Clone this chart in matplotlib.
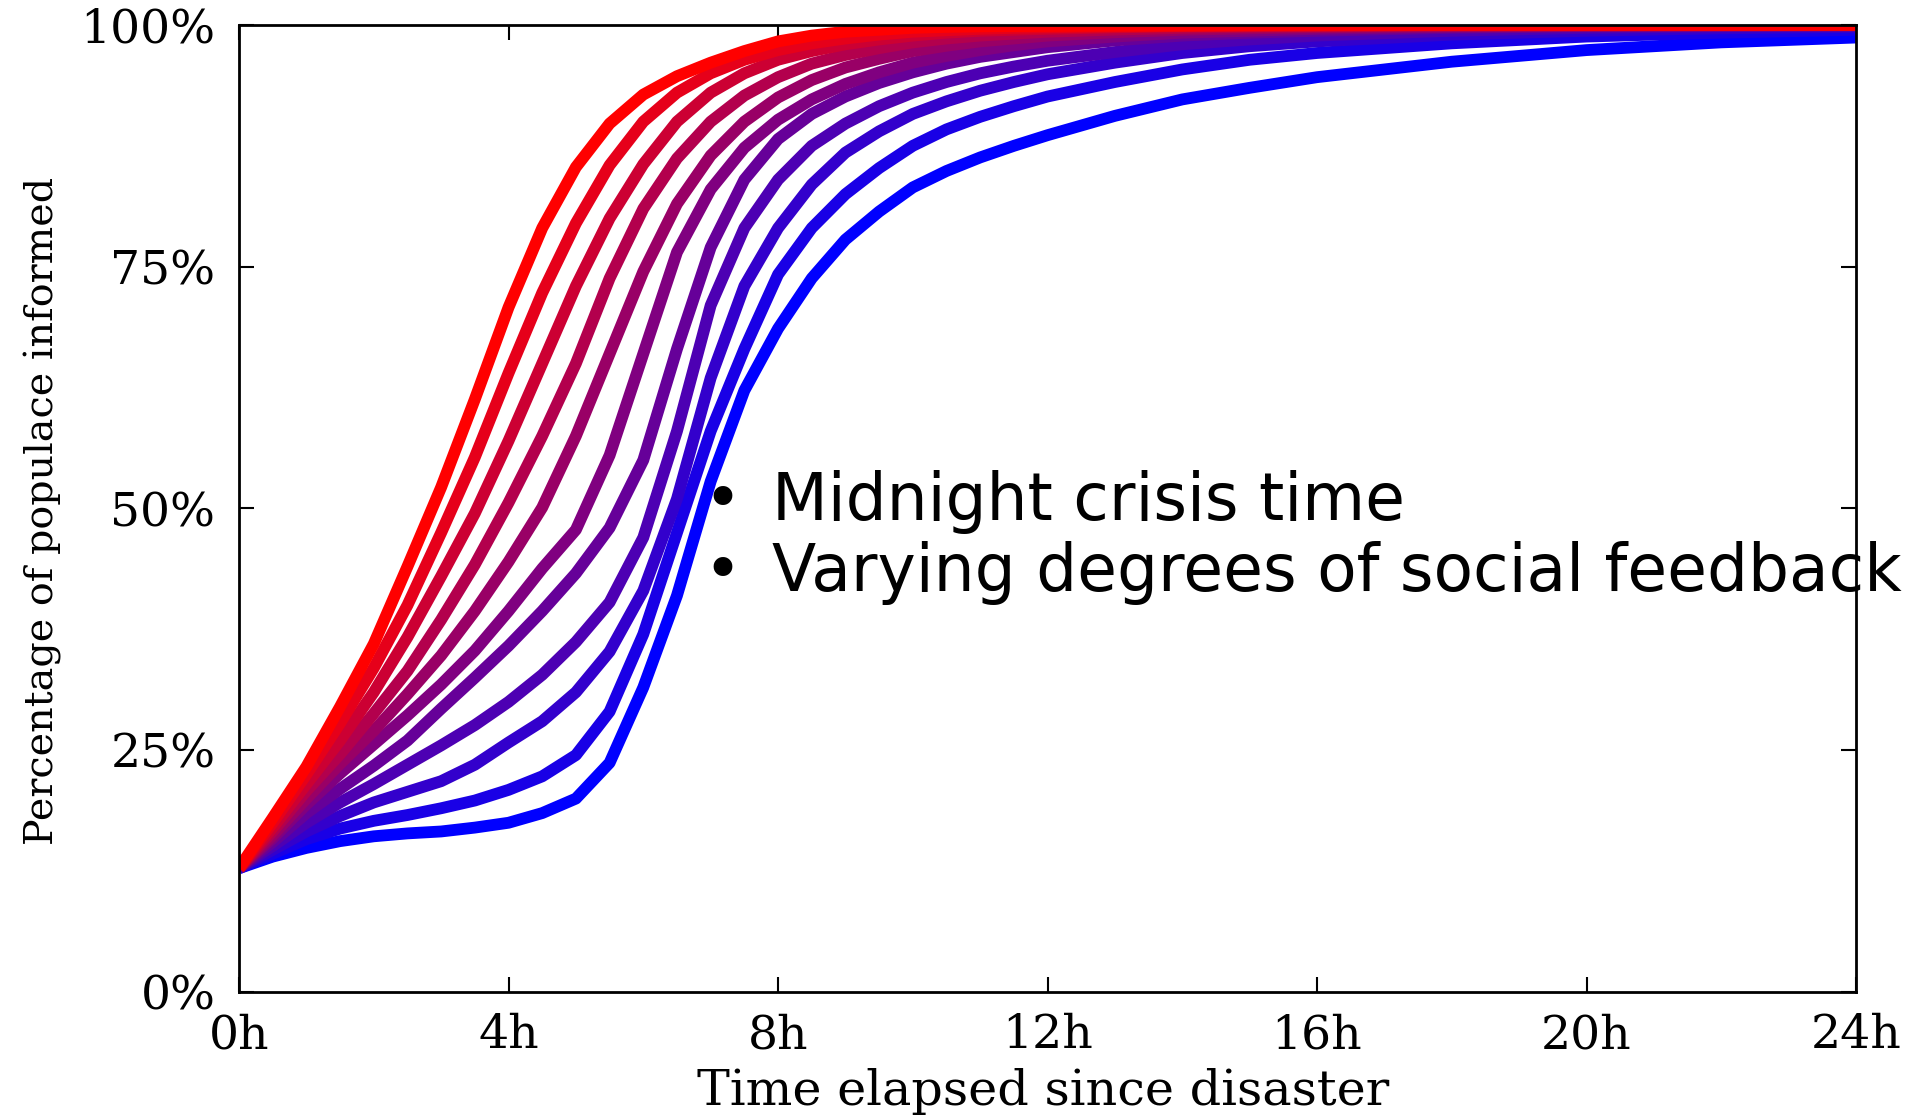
import matplotlib
matplotlib.use("Agg")
import matplotlib.pyplot as plt

# hours since the disaster (midnight crisis)
hours = [0, 0.5, 1, 1.5, 2, 2.5, 3, 3.5, 4, 4.5, 5, 5.5, 6, 6.5, 7, 7.5, 8, 8.5, 9,
         9.5, 10, 10.5, 11, 11.5, 12, 13, 14, 15, 16, 18, 20, 22, 24]

# percentage of populace informed, one run per degree of social feedback
fb00 = [12.8, 18.0, 23.3, 29.5, 36.0, 44.0, 52.2, 61.3, 70.8, 79.0, 85.3, 89.8, 92.8, 94.7,
        96.1, 97.3, 98.3, 98.9, 99.3, 99.5, 99.7, 99.8, 99.85, 99.88, 99.9, 99.93, 99.95,
        99.98, 100, 100, 100, 100, 100]
fb01 = [12.8, 17.5, 22.5, 27.8, 33.5, 40.0, 47.5, 55.3, 64.0, 72.3, 79.5, 85.5, 90.0, 93.0,
        95.0, 96.4, 97.4, 98.1, 98.6, 99.0, 99.3, 99.45, 99.6, 99.7, 99.75, 99.85, 99.9,
        99.93, 99.95, 100, 100, 100, 100]
fb02 = [12.8, 17.0, 21.5, 26.0, 31.0, 36.7, 43.0, 49.5, 57.0, 65.0, 73.0, 80.0, 85.6, 90.0,
        93.0, 95.0, 96.4, 97.3, 98.0, 98.5, 98.9, 99.2, 99.4, 99.5, 99.6, 99.75, 99.85,
        99.9, 99.93, 100, 100, 100, 100]
fb03 = [12.8, 16.6, 20.8, 24.6, 28.8, 33.2, 38.5, 44.2, 50.6, 57.5, 65.0, 73.8, 81.0, 86.2,
        90.0, 92.7, 94.6, 96.0, 96.9, 97.6, 98.2, 98.6, 98.9, 99.1, 99.3, 99.52, 99.7,
        99.8, 99.85, 99.93, 99.97, 100, 100]
fb04 = [12.8, 16.2, 20.0, 23.6, 27.0, 30.8, 34.8, 39.4, 44.5, 50.1, 57.5, 66.0, 74.5, 81.5,
        86.5, 90.0, 92.5, 94.3, 95.6, 96.5, 97.3, 97.85, 98.3, 98.6, 98.9, 99.25, 99.5,
        99.65, 99.75, 99.88, 99.94, 99.97, 100]
fb05 = [12.8, 15.9, 19.4, 22.6, 25.6, 28.6, 31.8, 35.3, 39.4, 43.8, 47.8, 55.5, 66.0, 76.5,
        83.0, 87.3, 90.2, 92.3, 93.9, 95.1, 96.1, 96.8, 97.4, 97.9, 98.3, 98.8, 99.2,
        99.4, 99.6, 99.8, 99.9, 99.95, 99.97]
fb06 = [12.8, 15.5, 18.5, 21.0, 23.4, 26.0, 29.3, 32.5, 35.8, 39.4, 43.3, 48.0, 55.0, 66.5,
        77.0, 84.0, 88.2, 90.8, 92.6, 94.0, 95.1, 96.0, 96.7, 97.2, 97.7, 98.4, 98.9,
        99.2, 99.4, 99.7, 99.85, 99.92, 99.96]
fb07 = [12.8, 15.1, 17.5, 19.6, 21.5, 23.5, 25.5, 27.6, 30.0, 32.8, 36.2, 40.3, 47.0, 58.0,
        71.0, 79.0, 84.0, 87.5, 89.8, 91.6, 93.0, 94.1, 95.0, 95.7, 96.3, 97.2, 98.0,
        98.5, 98.9, 99.4, 99.7, 99.85, 99.92]
fb08 = [12.8, 14.7, 16.6, 18.2, 19.6, 20.7, 21.8, 23.5, 25.8, 28.0, 31.0, 35.2, 41.5, 51.0,
        63.5, 73.0, 79.0, 83.5, 86.8, 89.0, 90.8, 92.1, 93.2, 94.1, 94.9, 96.1, 97.1,
        97.8, 98.3, 99.0, 99.4, 99.65, 99.8]
fb09 = [12.8, 14.3, 15.8, 16.9, 17.7, 18.3, 19.0, 19.8, 20.9, 22.3, 24.5, 29.0, 37.0, 47.5,
        58.0, 66.5, 74.2, 79.0, 82.5, 85.2, 87.5, 89.2, 90.5, 91.6, 92.6, 94.1, 95.4,
        96.4, 97.1, 98.1, 98.8, 99.2, 99.5]
fb10 = [12.8, 14.0, 14.9, 15.6, 16.1, 16.4, 16.6, 17.0, 17.5, 18.5, 20.0, 23.7, 31.5, 41.0,
        52.8, 62.2, 68.6, 73.8, 77.8, 80.7, 83.2, 84.9, 86.3, 87.5, 88.6, 90.6, 92.3,
        93.5, 94.6, 96.2, 97.4, 98.2, 98.7]

x_ticks = [0, 4, 8, 12, 16, 20, 24]
x_tick_labels = ["0h", "4h", "8h", "12h", "16h", "20h", "24h"]
y_ticks = [0, 25, 50, 75, 100]
y_tick_labels = ["0%", "25%", "50%", "75%", "100%"]
notes = ["Midnight crisis time", "Varying degrees of social feedback"]

runs = [fb00, fb01, fb02, fb03, fb04, fb05, fb06, fb07, fb08, fb09, fb10]

fig = plt.figure(figsize=(19.2, 11.19), dpi=100)
ax = fig.add_axes([0.1245, 0.1135, 0.8422, 0.8642])

# red = strongest feedback, blue = none; red ends up on top
n = len(runs)
for i in reversed(range(n)):
    frac = i / (n - 1)
    ax.plot(hours, runs[i], color=(1 - frac, 0, frac), lw=8.5,
            solid_joinstyle="round", solid_capstyle="butt")

ax.set_xlim(0, 24)
ax.set_ylim(0, 100)

serif = "DejaVu Serif"
ax.set_xticks(x_ticks)
ax.set_xticklabels(x_tick_labels, family=serif, fontsize=34)
ax.set_yticks(y_ticks)
ax.set_yticklabels(y_tick_labels, family=serif, fontsize=34)
ax.tick_params(direction="in", top=True, right=True, length=11, width=1.5,
               color="black")
ax.tick_params(axis="x", pad=15)
ax.tick_params(axis="y", pad=17)
for sp in ax.spines.values():
    sp.set_linewidth(2)

ax.set_xlabel("Time elapsed since disaster", family=serif, fontsize=35.5)
ax.xaxis.set_label_coords(0.497, -0.1165)
ax.xaxis.label.set_va("baseline")
ax.set_ylabel("Percentage of populace informed", family=serif, fontsize=28.5)
ax.yaxis.set_label_coords(-0.121, 0.497)
ax.yaxis.label.set_va("center")

# bulleted notes in the middle of the plot
for k, line in enumerate(notes):
    y = 0.488 - k * 0.0735
    ax.text(0.2987, y, "\u2022", transform=ax.transAxes, fontsize=46.5,
            family="DejaVu Sans", ha="center", va="baseline")
    ax.text(0.3293, y, line, transform=ax.transAxes, fontsize=46.5,
            family="DejaVu Sans", ha="left", va="baseline")

fig.savefig("out.png", dpi=100)
